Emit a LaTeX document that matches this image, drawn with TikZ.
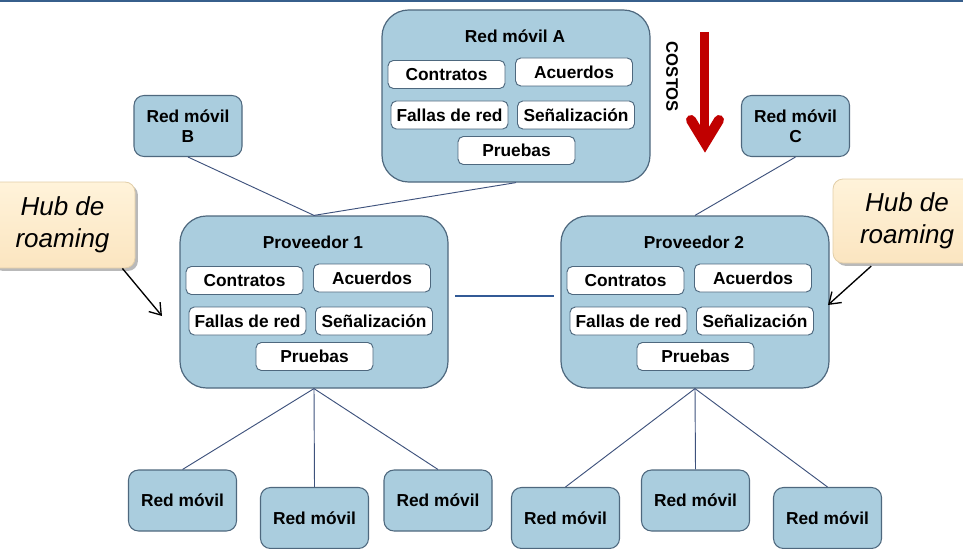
\documentclass[tikz,border=0pt]{standalone}
\usepackage{fontspec}
\setmainfont{Liberation Sans}
\usepackage{xcolor}
\usetikzlibrary{shadows,arrows.meta}
\definecolor{netblue}{RGB}{170,205,222}
\definecolor{netedge}{RGB}{78,104,126}
\definecolor{linkblue}{RGB}{62,82,124}
\definecolor{midblue}{RGB}{50,90,150}
\definecolor{hubtop}{RGB}{255,243,218}
\definecolor{hubbottom}{RGB}{251,229,192}
\definecolor{hubedge}{RGB}{226,206,168}
\definecolor{costred}{RGB}{192,0,0}
\definecolor{topline}{RGB}{55,95,140}

% one provider / network with its five agreements
\newcommand{\netgroup}[4]{%
  \begin{scope}[shift={(#2,#3)}]
    \node[netbox] (#1) at (134,86) {};
    \node[boldtext] (#1-title) at (133,26) {#4};
    \node[itembox] (#1-con) at (64.5,64.5) {Contratos};
    \node[itembox] (#1-acu) at (192,62) {Acuerdos};
    \node[itembox] (#1-fal) at (67.5,105) {Fallas de red};
    \node[itembox] (#1-sen) at (194,105) {Señalización};
    \node[itembox] (#1-pru) at (134.5,140.5) {Pruebas};
  \end{scope}}

\begin{document}
\begin{tikzpicture}[x=0.75pt, y=-0.75pt,
    boldtext/.style={font=\bfseries\fontsize{13}{15}\selectfont, inner sep=0pt},
    netbox/.style={rectangle, rounded corners=20pt, draw=netedge, line width=0.9pt, fill=netblue, minimum width=201pt, minimum height=129pt},
    itembox/.style={rectangle, rounded corners=4pt, draw=netedge, line width=0.7pt, fill=white, minimum width=87.75pt, minimum height=21pt, inner sep=0pt, font=\bfseries\fontsize{13}{15}\selectfont},
    smallnet/.style={rectangle, rounded corners=7.5pt, draw=netedge, line width=0.8pt, fill=netblue, minimum width=81pt, minimum height=45.75pt, inner sep=0pt, align=center, font=\bfseries\fontsize{13}{15}\selectfont},
    hubnote/.style={rectangle, rounded corners=7.5pt, draw=hubedge, line width=0.6pt, top color=hubtop, bottom color=hubbottom, align=center, inner sep=0pt, font=\itshape\fontsize{19.5}{24}\selectfont, drop shadow={shadow xshift=2.2pt, shadow yshift=-2.2pt, fill=black!55, opacity=.5}},
    link/.style={draw=linkblue, line width=0.7pt},
    hubarrow/.style={draw=black, line width=1pt, -{Straight Barb[length=8pt, width=11pt]}}]
  \useasboundingbox (0,0) rectangle (963,549);
  \draw[topline, line width=1.6pt] (0,1) -- (963,1);

  % networks with full agreements
  \netgroup{A}{382}{10}{Red móvil A}
  \netgroup{P1}{180}{216}{Proveedor 1}
  \netgroup{P2}{561}{216}{Proveedor 2}

  % costs
  \node[boldtext, font=\bfseries\fontsize{12.5}{15}\selectfont, rotate=-90] (costos) at (672,77) {COSTOS};
  \draw[costred, line width=6.75pt] (704.5,32) -- (704.5,140);
  \draw[costred, line width=7.5pt, line cap=round, line join=miter] (691,120) -- (705,143) -- (719,120);

  % other networks
  \node[smallnet] (B) at (188,126) {Red móvil\\B};
  \node[smallnet] (C) at (795.5,126) {Red móvil\\C};
  \node[smallnet] (L1) at (182.5,500.5) {Red móvil};
  \node[smallnet] (L2) at (314.5,518) {Red móvil};
  \node[smallnet] (L3) at (438,500.5) {Red móvil};
  \node[smallnet] (R1) at (565.5,518) {Red móvil};
  \node[smallnet] (R2) at (695.5,500.5) {Red móvil};
  \node[smallnet] (R3) at (827.5,518) {Red móvil};

  % links
  \draw[link] (B.south) -- (P1.north);
  \draw[link] (A.south) -- (P1.north);
  \draw[link] (C.south) -- (P2.north);
  \draw[draw=midblue, line width=1.3pt, shorten <=5pt, shorten >=4.5pt] ([yshift=4.5pt]P1.east) -- ([yshift=4.5pt]P2.west);
  \foreach \n in {L1,L2,L3} \draw[link] (P1.south) -- (\n.north);
  \foreach \n in {R1,R2,R3} \draw[link] (P2.south) -- (\n.north);

  % roaming hubs
  \node[hubnote, minimum width=108.75pt, minimum height=64.5pt] (hubL) at (62.5,225) {Hub de\\roaming};
  \node[hubnote, minimum width=111pt, minimum height=63pt] (hubR) at (907,221) {Hub de\\roaming};
  \coordinate (hubLtip) at (162,316);
  \coordinate (hubRtip) at (828,305);
  \draw[hubarrow] ([xshift=-9.75pt]hubL.south east) -- (hubLtip);
  \draw[hubarrow] ([xshift=29pt, yshift=-2pt]hubR.south west) -- (hubRtip);
\end{tikzpicture}
\end{document}
